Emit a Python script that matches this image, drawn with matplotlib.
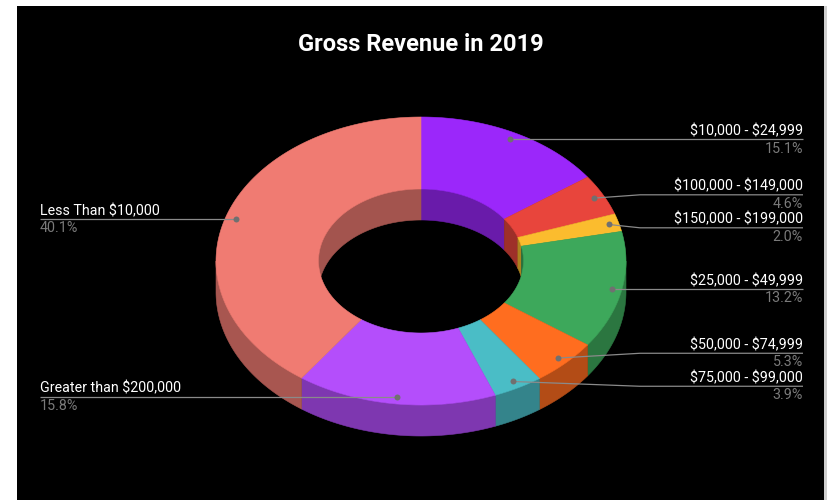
import numpy as np
import matplotlib
matplotlib.use("Agg")
import matplotlib.pyplot as plt
from matplotlib.patches import Polygon, Rectangle
from matplotlib.colors import to_rgb

# ---- data -------------------------------------------------------------
categories = [
    "$10,000 - $24,999",
    "$100,000 - $149,000",
    "$150,000 - $199,000",
    "$25,000 - $49,999",
    "$50,000 - $74,999",
    "$75,000 - $99,000",
    "Greater than $200,000",
    "Less Than $10,000",
]
shares = [15.1, 4.6, 2.0, 13.2, 5.3, 3.9, 15.8, 40.1]
slice_colors = [
    "#9B27FA", "#E8453C", "#FBBC2E", "#3DA85B",
    "#FF6D1F", "#4ABDC6", "#B44EFB", "#F07B72",
]
title = "Gross Revenue in 2019"

# ---- layout (pixel space) --------------------------------------------
W, H = 829, 500
CX, CY = 421.0, 261.0       # centre of the top face
A, B = 205.0, 144.0         # outer semi-axes of the top face
HOLE = 0.5                  # inner radius as a fraction of outer
DEPTH = 31.0                # thickness of the ring
DOT_R = 0.95                # radius at which leader dots sit
LABEL_GAP = 33.0            # minimum vertical spacing between labels
RIGHT_X, LEFT_X = 803.0, 40.0

FONT = ["Roboto", "DejaVu Sans"]
LINE_C = "#8a8a8a"
PCT_C = "#7a7a7a"
DOT_C = "#707070"

fig = plt.figure(figsize=(W / 100, H / 100), dpi=100, facecolor="white")
ax = fig.add_axes([0, 0, 1, 1])
ax.set_xlim(0, W)
ax.set_ylim(H, 0)
ax.axis("off")

# chart panel
ax.add_patch(Rectangle((17, 6), 807, H - 6, facecolor="black", edgecolor="none", zorder=0))
ax.add_patch(Rectangle((824, 6), 3, H - 6, facecolor="#cfcfcf", edgecolor="none", zorder=0))


def pt(theta, r):
    t = np.radians(theta)
    return CX + A * r * np.sin(t), CY - B * r * np.cos(t)


def arc(t1, t2, r, dy=0.0, n=None):
    n = n or max(int(abs(t2 - t1) * 2) + 2, 4)
    th = np.linspace(t1, t2, n)
    x, y = pt(th, r)
    return np.column_stack([x, y + dy])


def shade(c, f=0.7):
    return tuple(v * f for v in to_rgb(c))


def clip(t1, t2, lo, hi):
    s, e = max(t1, lo), min(t2, hi)
    return (s, e) if e > s else None


frac = np.array(shares) / np.sum(shares)
ends = np.cumsum(frac) * 360.0
starts = ends - frac * 360.0

# inner walls of the far half, seen through the hole
for s, e, c in zip(starts, ends, slice_colors):
    for lo, hi in ((0, 90), (270, 360)):
        seg = clip(s, e, lo, hi)
        if seg:
            top = arc(seg[0], seg[1], HOLE)
            bot = arc(seg[1], seg[0], HOLE, DEPTH)
            ax.add_patch(Polygon(np.vstack([top, bot]), closed=True,
                                 facecolor=shade(c, 0.68), edgecolor=shade(c, 0.68),
                                 linewidth=0.4, zorder=1))

# outer walls of the near half
for s, e, c in zip(starts, ends, slice_colors):
    seg = clip(s, e, 90, 270)
    if seg:
        top = arc(seg[0], seg[1], 1.0)
        bot = arc(seg[1], seg[0], 1.0, DEPTH)
        ax.add_patch(Polygon(np.vstack([top, bot]), closed=True,
                             facecolor=shade(c, 0.7), edgecolor=shade(c, 0.7),
                             linewidth=0.4, zorder=2))

# top faces
for s, e, c in zip(starts, ends, slice_colors):
    outer = arc(s, e, 1.0)
    inner = arc(e, s, HOLE)
    ax.add_patch(Polygon(np.vstack([outer, inner]), closed=True,
                         facecolor=c, edgecolor=c, linewidth=0.4, zorder=3))

# ---- labels -----------------------------------------------------------
mids = (starts + ends) / 2.0
dots = [pt(m, DOT_R) for m in mids]
sides = ["right" if m < 180 else "left" for m in mids]


def spread(ys):
    """Push label rows apart so neighbours keep LABEL_GAP, keeping groups centred."""
    groups = [[i] for i in sorted(ys, key=ys.get)]

    def first_of(g):
        return np.mean([ys[i] for i in g]) - (len(g) - 1) * LABEL_GAP / 2

    merged = True
    while merged:
        merged = False
        for k in range(len(groups) - 1):
            last_k = first_of(groups[k]) + (len(groups[k]) - 1) * LABEL_GAP
            if first_of(groups[k + 1]) - last_k < LABEL_GAP:
                groups[k] = groups[k] + groups[k + 1]
                del groups[k + 1]
                merged = True
                break
    out = {}
    for g in groups:
        f = first_of(g)
        for j, i in enumerate(sorted(g, key=ys.get)):
            out[i] = f + j * LABEL_GAP
    return out


label_y = {}
for side in ("right", "left"):
    ys = {i: dots[i][1] for i, sd in enumerate(sides) if sd == side}
    label_y.update(spread(ys))

for i, name in enumerate(categories):
    dx, dy = dots[i]
    ly = label_y[i]
    if sides[i] == "right":
        join_x = max(CX + A + 14, dx)
        xs = [dx, join_x, RIGHT_X]
        ha, tx = "right", RIGHT_X
    else:
        join_x = min(CX - A - 14, dx)
        xs = [dx, join_x, LEFT_X]
        ha, tx = "left", LEFT_X
    ax.plot(xs, [dy, ly, ly], color=LINE_C, linewidth=0.9,
            solid_capstyle="butt", zorder=5)
    ax.plot([dx], [dy], marker="o", markersize=4.3, color=DOT_C,
            markeredgewidth=0, zorder=6)
    ax.text(tx, ly - 4.3, name, ha=ha, va="baseline", fontsize=10.3,
            color="white", family=FONT, zorder=7, parse_math=False)
    ax.text(tx, ly + 13.2, f"{shares[i]:.1f}%", ha=ha, va="baseline", fontsize=10.3,
            color=PCT_C, family=FONT, zorder=7, parse_math=False)

ax.text(421, 51, title, ha="center", va="baseline", fontsize=17,
        fontweight="bold", color="white", family=FONT, zorder=7, parse_math=False)

fig.savefig("out.png", dpi=100, facecolor=fig.get_facecolor())
